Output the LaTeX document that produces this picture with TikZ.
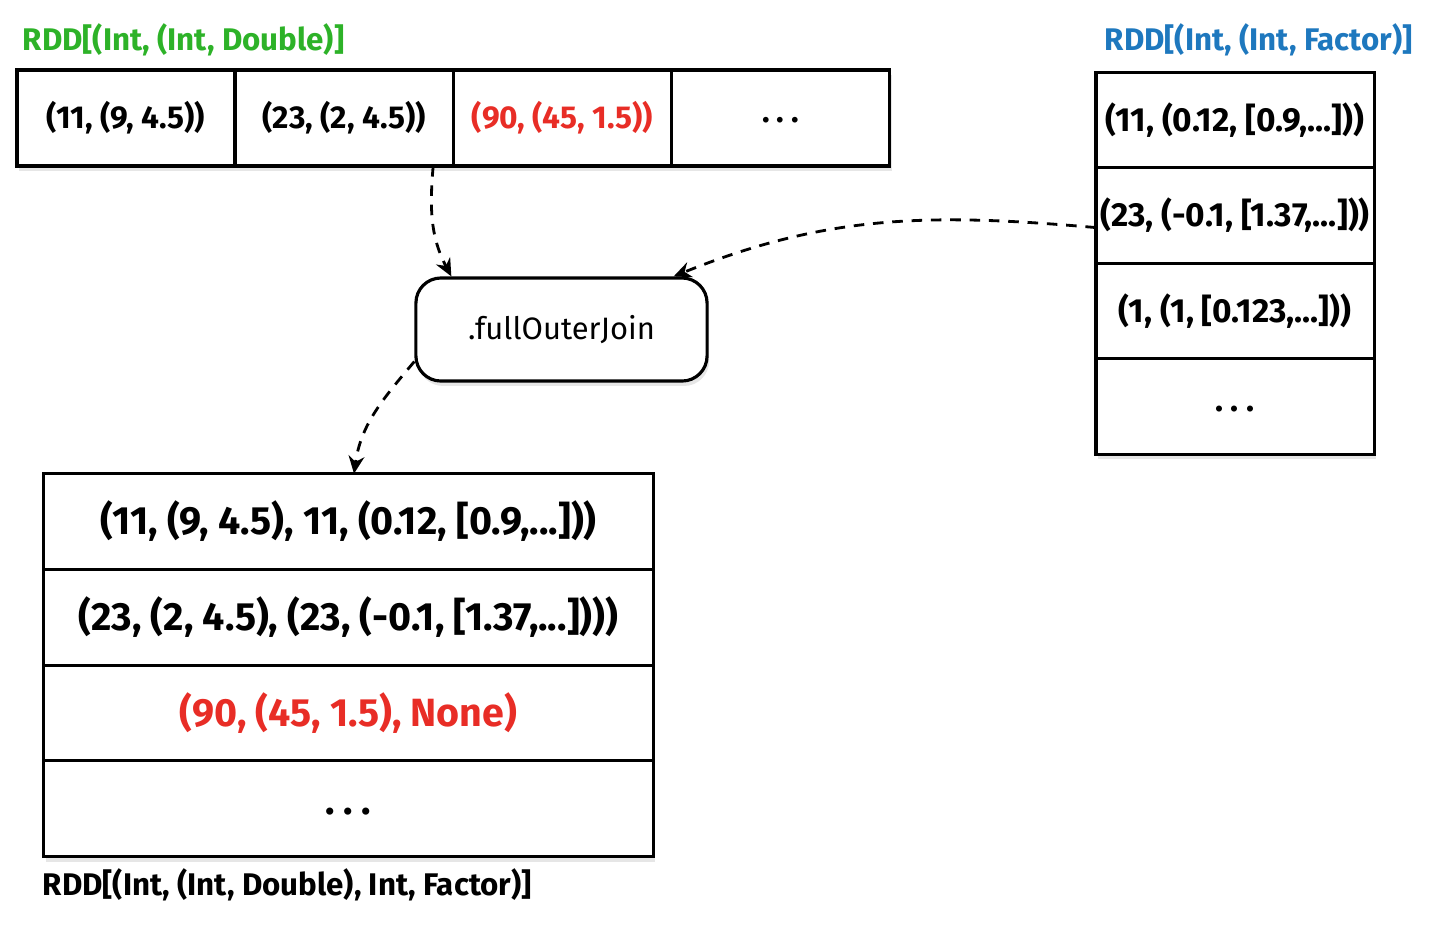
\documentclass[tikz,border=0pt]{standalone}
\usepackage{fontspec}
\setmainfont{Fira Sans}
\usetikzlibrary{positioning,arrows.meta,shadows}
\definecolor{rddgreen}{RGB}{45,178,40}
\definecolor{rddblue}{RGB}{30,120,190}
\definecolor{rddred}{RGB}{232,45,38}
\newcommand{\celldots}{\raisebox{-0.6ex}{.\hspace{0.22em}.\hspace{0.22em}.}}
\tikzset{
	cell/.style={draw, line width=0.9pt, fill=white, outer sep=0pt, inner sep=0pt, font=\fontsize{9}{11}\selectfont\bfseries,
		drop shadow={opacity=0.2, shadow xshift=0.6pt, shadow yshift=-1.4pt}},
	topcell/.style={cell, minimum width=2.18cm, minimum height=0.96cm},
	rightcell/.style={cell, minimum width=2.78cm, minimum height=0.955cm, font=\fontsize{9.5}{11}\selectfont\bfseries},
	outcell/.style={cell, minimum width=6.09cm, minimum height=0.957cm, font=\fontsize{11.2}{13}\selectfont\bfseries},
	joinbox/.style={draw, line width=0.9pt, fill=white, rounded corners=0.25cm, minimum width=2.91cm, minimum height=1.03cm,
		font=\fontsize{8.8}{11}\selectfont, drop shadow={opacity=0.2, shadow xshift=0.6pt, shadow yshift=-1.4pt}},
	rddlabel/.style={anchor=west, inner sep=0pt, font=\fontsize{8.9}{11}\selectfont\bfseries},
	flow/.style={dash pattern=on 3pt off 2.5pt, line width=0.8pt, -{Stealth[length=5pt,width=4.5pt]}}
}
\begin{document}
\begin{tikzpicture}[x=0.01cm, y=-0.01cm]
	\useasboundingbox (0,0) rectangle (1438,926);
	% left input RDD
	\node[rddlabel, text=rddgreen] (lbl1) at (22,40) {RDD[(Int, (Int, Double)]};
	\node[topcell] (d1) at (126,118) {(11, (9, 4.5))};
	\node[topcell, right=0pt of d1] (d2) {(23, (2, 4.5))};
	\node[topcell, right=0pt of d2, text=rddred] (d3) {(90, (45, 1.5))};
	\node[topcell, right=0pt of d3] (d4) {\celldots};
	% right input RDD
	\node[rddlabel, text=rddblue] (lbl2) at (1104,40) {RDD[(Int, (Int, Factor)]};
	\node[rightcell] (r1) at (1235,120) {(11, (0.12, [0.9,...]))};
	\node[rightcell, below=0pt of r1] (r2) {(23, (-0.1, [1.37,...]))};
	\node[rightcell, below=0pt of r2] (r3) {(1, (1, [0.123,...]))};
	\node[rightcell, below=0pt of r3] (r4) {\celldots};
	% the join
	\node[joinbox] (join) at (561.5,329.5) {.fullOuterJoin};
	% result RDD
	\node[outcell] (b1) at (348.5,521.5) {(11, (9, 4.5), 11, (0.12, [0.9,...]))};
	\node[outcell, below=0pt of b1] (b2) {(23, (2, 4.5), (23, (-0.1, [1.37,...])))};
	\node[outcell, below=0pt of b2, text=rddred] (b3) {(90, (45, 1.5), None)};
	\node[outcell, below=0pt of b3] (b4) {\celldots};
	\node[rddlabel, font=\fontsize{8.9}{11}\selectfont\bfseries] (lbl3) at (42,885) {RDD[(Int, (Int, Double), Int, Factor)]};
	% connectors
	\draw[flow] ([xshift=-0.2cm]d2.south east) to[out=-95, in=118] ([xshift=0.37cm]join.north west);
	\draw[flow] ([yshift=-0.12cm]r2.west) to[out=175, in=22] ([xshift=-0.35cm]join.north east);
	\draw[flow] ([yshift=-0.32cm]join.west) to[out=-130, in=82] ([xshift=3.1cm]b1.north west);
\end{tikzpicture}
\end{document}
